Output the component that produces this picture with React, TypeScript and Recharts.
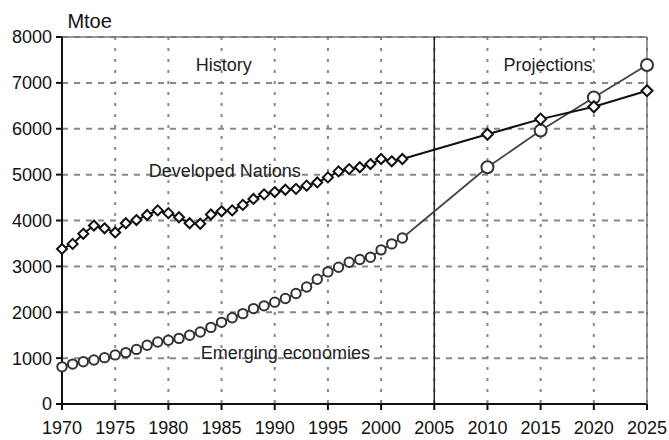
import React from 'react';
import {
  LineChart, Line, XAxis, YAxis, CartesianGrid, ReferenceLine, ReferenceDot,
} from 'recharts';

const years = [
  1970, 1971, 1972, 1973, 1974, 1975, 1976, 1977, 1978, 1979,
  1980, 1981, 1982, 1983, 1984, 1985, 1986, 1987, 1988, 1989,
  1990, 1991, 1992, 1993, 1994, 1995, 1996, 1997, 1998, 1999,
  2000, 2001, 2002, 2010, 2015, 2020, 2025,
];

const developed = [
  3380, 3490, 3710, 3890, 3830, 3740, 3940, 4010, 4120, 4220,
  4160, 4070, 3940, 3930, 4130, 4200, 4220, 4340, 4470, 4570,
  4620, 4670, 4690, 4760, 4830, 4940, 5070, 5120, 5160, 5230,
  5340, 5290, 5340, 5880, 6210, 6480, 6830,
];

const emerging = [
  810, 870, 920, 960, 1010, 1070, 1120, 1190, 1280, 1350,
  1390, 1430, 1500, 1570, 1670, 1780, 1880, 1970, 2080, 2140,
  2220, 2300, 2410, 2550, 2720, 2880, 2980, 3090, 3150, 3200,
  3360, 3490, 3620, 5160, 5960, 6680, 7390,
];

const xTicks = [1970, 1975, 1980, 1985, 1990, 1995, 2000, 2005, 2010, 2015, 2020, 2025];
const yTicks = [0, 1000, 2000, 3000, 4000, 5000, 6000, 7000, 8000];

const data = years.map((year, i) => ({ year, developed: developed[i], emerging: emerging[i] }));

const FONT = '"Liberation Sans", Arial, sans-serif';

const Diamond = (props: any) => {
  const { cx, cy, index } = props;
  const s = years[index] > 2005 ? 5.5 : 5;
  return (
    <path
      key={`d-${index}`}
      d={`M${cx},${cy - s}L${cx + s},${cy}L${cx},${cy + s}L${cx - s},${cy}Z`}
      fill="#fff"
      stroke="#111"
      strokeWidth={2}
    />
  );
};

const Circle = (props: any) => {
  const { cx, cy, index } = props;
  const r = years[index] > 2005 ? 6 : 4.7;
  return <circle key={`c-${index}`} cx={cx} cy={cy} r={r} fill="#fff" stroke="#333" strokeWidth={2} />;
};

const textLabel = (value: string, size = 18) => ({
  value,
  position: 'center' as const,
  fill: '#222',
  fontSize: size,
  fontFamily: FONT,
});

const App: React.FC = () => {
  return (
    <div style={{ position: 'absolute', left: 0, top: 0, width: 669, height: 440, background: '#fff' }}>
      <LineChart width={669} height={440} data={data} margin={{ top: 37, right: 22, bottom: 6, left: 0 }}>
        <CartesianGrid horizontal vertical={false} stroke="#888" strokeWidth={2} strokeDasharray="6 6" />
        <CartesianGrid horizontal={false} vertical stroke="#888" strokeWidth={2} strokeDasharray="3 8" />
        <XAxis
          dataKey="year"
          type="number"
          domain={[1970, 2025]}
          ticks={xTicks}
          interval={0}
          height={30}
          tickSize={6}
          tickMargin={11}
          axisLine={{ stroke: '#111', strokeWidth: 2 }}
          tickLine={{ stroke: '#111', strokeWidth: 2 }}
          tick={{ fill: '#111', fontSize: 18, fontFamily: FONT }}
        />
        <YAxis
          type="number"
          domain={[0, 8000]}
          ticks={yTicks}
          interval={0}
          width={62}
          tickSize={6}
          tickMargin={4}
          axisLine={{ stroke: '#111', strokeWidth: 2 }}
          tickLine={{ stroke: '#111', strokeWidth: 2 }}
          tick={{ fill: '#111', fontSize: 18, fontFamily: FONT }}
        />
        <ReferenceLine y={8000} stroke="#777" strokeWidth={1.5} />
        <ReferenceLine x={2025} stroke="#777" strokeWidth={1.5} />
        <ReferenceLine x={2005} stroke="#222" strokeWidth={1.5} />
        <ReferenceDot x={1972.6} y={8350} r={0} fill="none" stroke="none" ifOverflow="visible" label={{ ...textLabel('Mtoe', 20), fill: '#111' }} />
        <ReferenceDot x={1985.2} y={7400} r={0} fill="none" stroke="none" label={textLabel('History')} />
        <ReferenceDot x={2015.7} y={7400} r={0} fill="none" stroke="none" label={textLabel('Projections')} />
        <ReferenceDot x={1985.3} y={5080} r={0} fill="none" stroke="none" label={textLabel('Developed Nations')} />
        <ReferenceDot x={1991} y={1110} r={0} fill="none" stroke="none" label={textLabel('Emerging economies')} />
        <Line
          dataKey="emerging"
          stroke="#444"
          strokeWidth={1.8}
          dot={Circle}
          activeDot={false}
          isAnimationActive={false}
        />
        <Line
          dataKey="developed"
          stroke="#111"
          strokeWidth={2}
          dot={Diamond}
          activeDot={false}
          isAnimationActive={false}
        />
      </LineChart>
    </div>
  );
};

export default App;
